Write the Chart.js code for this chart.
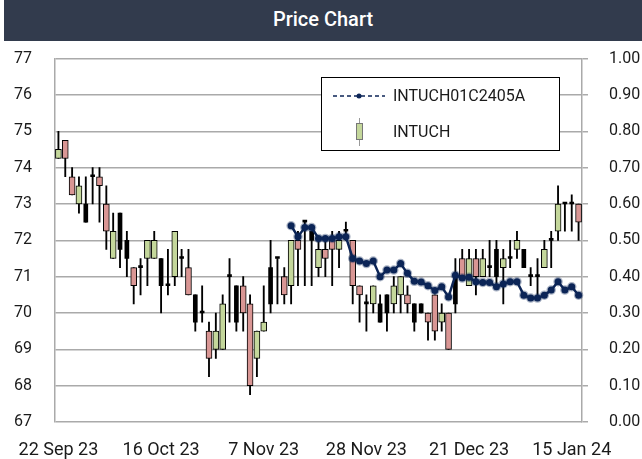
<!DOCTYPE html>
<html>
<head>
<meta charset="utf-8">
<title>Price Chart</title>
<script src="https://cdn.jsdelivr.net/npm/chart.js"></script>
<style>
    html, body { margin: 0; padding: 0; background: #fff; }
    #wrap { position: relative; width: 642px; height: 459px; overflow: hidden; }
    #title {
        position: absolute; left: 4px; top: 0; width: 638px; height: 41px; z-index: 2;
        background: #323b4d; color: #fff; text-align: center;
        font: 500 20px Roboto, sans-serif; line-height: 39px;
    }
    /* canvas starts under the title bar: chart.js keeps ~31px above the plot */
    #box { position: absolute; left: 0; top: 26px; width: 642px; height: 435px; z-index: 1; }
</style>
</head>
<body>
<div id="wrap">
    <div id="title">Price Chart</div>
    <div id="box"><canvas id="price-chart"></canvas></div>
</div>
<script>
// ===== DATA =====

// trading sessions (SET), 22 Sep 23 -> 16 Jan 24
const dates = [
    '22 Sep 23', '25 Sep 23', '26 Sep 23', '27 Sep 23', '28 Sep 23', '29 Sep 23',
    '2 Oct 23', '3 Oct 23', '4 Oct 23', '5 Oct 23', '6 Oct 23', '9 Oct 23', '10 Oct 23',
    '11 Oct 23', '12 Oct 23', '16 Oct 23', '17 Oct 23', '18 Oct 23', '19 Oct 23', '20 Oct 23',
    '24 Oct 23', '25 Oct 23', '26 Oct 23', '27 Oct 23', '30 Oct 23', '31 Oct 23',
    '1 Nov 23', '2 Nov 23', '3 Nov 23', '6 Nov 23', '7 Nov 23', '8 Nov 23', '9 Nov 23',
    '10 Nov 23', '13 Nov 23', '14 Nov 23', '15 Nov 23', '16 Nov 23', '17 Nov 23', '20 Nov 23',
    '21 Nov 23', '22 Nov 23', '23 Nov 23', '24 Nov 23', '27 Nov 23', '28 Nov 23', '29 Nov 23',
    '30 Nov 23', '1 Dec 23', '4 Dec 23', '6 Dec 23', '7 Dec 23', '8 Dec 23', '12 Dec 23',
    '13 Dec 23', '14 Dec 23', '15 Dec 23', '18 Dec 23', '19 Dec 23', '20 Dec 23', '21 Dec 23',
    '22 Dec 23', '25 Dec 23', '26 Dec 23', '27 Dec 23', '28 Dec 23',
    '2 Jan 24', '3 Jan 24', '4 Jan 24', '5 Jan 24', '8 Jan 24', '9 Jan 24', '10 Jan 24',
    '11 Jan 24', '12 Jan 24', '15 Jan 24', '16 Jan 24'
];

// INTUCH OHLC
const openPx = [
    74.25, 74.75, 73.75, 73.0, 73.0, 73.75, 73.75, 73.0, 71.5, 72.75,
    72.0, 71.25, 71.25, 71.5, 71.5, 71.5, 70.75, 71.0, 71.5, 71.25,
    70.5, 70.0, 69.5, 69.0, 69.0, 71.0, 70.75, 70.75, 70.25, 68.75,
    69.5, 71.25, 71.5, 71.0, 70.75, 72.0, 72.5, 72.25, 71.25, 71.75,
    72.0, 71.75, 72.25, 72.0, 70.75, 70.25, 70.25, 70.25, 70.5, 70.25,
    70.5, 70.5, 70.25, 70.25, 70.0, 70.5, 69.75, 70.0, 71.0, 71.5,
    70.75, 71.5, 71.0, 71.25, 71.75, 71.25, 71.5, 71.75, 71.75, 71.0,
    71.0, 71.25, 72.0, 72.25, 73.0, 73.0, 73.0
];
const highPx = [
    75.0, 74.75, 74.0, 73.75, 73.75, 74.0, 74.0, 73.5, 72.75, 72.75,
    72.25, 71.25, 71.5, 72.0, 72.25, 71.5, 71.75, 72.25, 71.75, 71.75,
    70.5, 70.75, 69.75, 70.0, 70.5, 71.5, 70.75, 71.0, 70.5, 69.5,
    70.75, 72.0, 71.5, 71.25, 72.0, 72.25, 72.5, 72.25, 72.0, 72.0,
    72.25, 72.25, 72.5, 72.0, 70.75, 70.5, 70.75, 70.5, 70.5, 71.0,
    71.0, 70.75, 70.25, 70.25, 70.0, 70.5, 70.25, 70.0, 71.5, 71.75,
    71.75, 71.75, 71.75, 72.0, 72.0, 71.75, 72.0, 72.25, 71.75, 71.25,
    71.5, 72.0, 72.25, 73.5, 73.0, 73.25, 73.0
];
const lowPx = [
    74.25, 73.75, 73.25, 72.75, 72.5, 73.0, 72.5, 71.75, 71.5, 71.25,
    71.0, 70.25, 70.5, 70.75, 71.5, 70.0, 70.5, 70.75, 71.0, 70.5,
    69.5, 69.75, 68.25, 68.75, 69.0, 69.75, 69.5, 69.5, 67.75, 68.25,
    69.5, 70.0, 70.25, 70.25, 70.25, 70.75, 70.75, 70.75, 71.0, 71.0,
    70.75, 71.25, 72.0, 70.25, 69.75, 69.5, 70.0, 69.75, 69.5, 70.0,
    70.0, 70.0, 69.5, 70.0, 69.25, 69.25, 69.5, 69.0, 70.0, 71.0,
    70.75, 70.5, 71.0, 71.0, 70.75, 70.25, 71.25, 71.5, 71.25, 70.75,
    70.5, 71.25, 71.25, 72.0, 72.25, 72.25, 72.0
];
const closePx = [
    74.5, 74.25, 73.25, 73.5, 72.5, 73.75, 73.5, 72.25, 72.25, 71.75,
    71.5, 70.75, 71.25, 72.0, 72.0, 70.75, 70.75, 72.25, 71.5, 70.5,
    69.75, 70.0, 68.75, 69.5, 70.25, 71.0, 69.75, 70.0, 68.0, 69.5,
    69.75, 70.25, 71.5, 70.5, 72.0, 71.75, 72.5, 72.0, 71.75, 71.5,
    71.75, 72.0, 72.25, 70.75, 70.5, 70.25, 70.75, 69.75, 70.0, 70.75,
    71.0, 70.25, 69.75, 70.0, 69.75, 69.5, 70.0, 69.0, 70.25, 71.0,
    71.5, 71.0, 71.5, 71.25, 71.0, 71.5, 71.5, 72.0, 71.25, 71.0,
    71.0, 71.75, 72.0, 73.0, 73.0, 73.0, 72.5
];
// sessions drawn as filled (black) bodies
const filledDays = [4, 9, 10, 15, 20, 26, 31, 37, 47, 48, 52, 53, 58, 64, 68];

// INTUCH01C2405A warrant (right axis), listed from the 13 Nov 23 session
const warrantPx = [
    null, null, null, null, null, null, null, null, null, null,
    null, null, null, null, null, null, null, null, null, null,
    null, null, null, null, null, null, null, null, null, null,
    null, null, null, null, 0.54, 0.51, 0.535, 0.535, 0.505, 0.505,
    0.505, 0.51, 0.51, 0.45, 0.443, 0.436, 0.443, 0.40, 0.418, 0.418,
    0.436, 0.409, 0.387, 0.385, 0.375, 0.362, 0.372, 0.344, 0.404, 0.396,
    0.398, 0.386, 0.384, 0.384, 0.372, 0.38, 0.386, 0.386, 0.349, 0.341,
    0.341, 0.349, 0.363, 0.386, 0.363, 0.372, 0.349
];

// axis ranges / labels
const priceTicks = [67, 68, 69, 70, 71, 72, 73, 74, 75, 76, 77];
const warrantTicks = [0, 0.1, 0.2, 0.3, 0.4, 0.5, 0.6, 0.7, 0.8, 0.9, 1.0];
const labelEvery = 15;
const seriesNames = ['INTUCH01C2405A', 'INTUCH'];

// ===== STYLE =====
const UP_FILL = '#c4d79b';
const DOWN_FILL = '#d99694';
const LINE_COLOR = '#0c2557';
const GRID = '#aaaaaa';
const FONT = 'Roboto, sans-serif';

// ===== LEGEND BOX (drawn inside the plot) =====
const legendBox = {
    id: 'legendBox',
    afterDatasetsDraw(chart) {
        const ctx = chart.ctx;
        // box sits at page x 321..559, y 77..150 (canvas is 26px lower than page top)
        const x = 321, y = 51, w = 238, h = 73;
        ctx.save();
        ctx.fillStyle = '#fff';
        ctx.fillRect(x, y, w, h);
        ctx.strokeStyle = '#000';
        ctx.lineWidth = 1;
        ctx.strokeRect(x + 0.5, y + 0.5, w, h);

        // warrant line sample
        const y1 = y + 19;
        ctx.strokeStyle = LINE_COLOR;
        ctx.lineWidth = 1.5;
        ctx.setLineDash([4, 3]);
        ctx.beginPath();
        ctx.moveTo(333, y1);
        ctx.lineTo(385, y1);
        ctx.stroke();
        ctx.setLineDash([]);
        ctx.fillStyle = LINE_COLOR;
        ctx.beginPath();
        ctx.arc(359, y1, 2.5, 0, Math.PI * 2);
        ctx.fill();

        // candle sample
        const y2 = y + 55;
        ctx.strokeStyle = '#999';
        ctx.lineWidth = 1;
        ctx.beginPath();
        ctx.moveTo(359.5, y2 - 14);
        ctx.lineTo(359.5, y2 + 14);
        ctx.stroke();
        ctx.fillStyle = UP_FILL;
        ctx.fillRect(357, y2 - 8, 5, 15);
        ctx.strokeStyle = '#777';
        ctx.strokeRect(356.5, y2 - 8.5, 6, 16);

        ctx.fillStyle = '#1a1a1a';
        ctx.font = '16px ' + FONT;
        ctx.textBaseline = 'middle';
        ctx.fillText(seriesNames[0], 393, y1 + 1);
        ctx.fillText(seriesNames[1], 393, y2 + 1);
        ctx.restore();
    }
};

// ===== CHART =====
const bodyColor = (i) => {
    if (closePx[i] > openPx[i]) return UP_FILL;
    if (closePx[i] < openPx[i]) return DOWN_FILL;
    return '#000';
};

const isFilled = (i) => filledDays.includes(i) || openPx[i] === closePx[i];

const ctx = document.getElementById('price-chart').getContext('2d');

new Chart(ctx, {
    data: {
        labels: dates,
        datasets: [
            {
                type: 'line',
                label: seriesNames[0],
                data: warrantPx,
                yAxisID: 'y1',
                borderColor: LINE_COLOR,
                borderWidth: 2.5,
                pointRadius: 3.5,
                pointBackgroundColor: LINE_COLOR,
                pointBorderColor: 'rgba(12, 37, 87, 0.35)',
                pointBorderWidth: 2.5,
                tension: 0,
                order: 0
            },
            {
                type: 'bar',
                label: 'wick',
                data: lowPx.map((l, i) => [l, highPx[i]]),
                yAxisID: 'y',
                backgroundColor: '#000',
                barThickness: 1.2,
                grouped: false,
                order: 3
            },
            {
                type: 'bar',
                label: seriesNames[1],
                data: openPx.map((o, i) => isFilled(i) ? null : [o, closePx[i]]),
                yAxisID: 'y',
                backgroundColor: (c) => bodyColor(c.dataIndex),
                borderColor: '#000',
                borderWidth: 1,
                borderSkipped: false,
                barThickness: 6,
                grouped: false,
                order: 2
            },
            {
                type: 'bar',
                label: 'filled',
                data: openPx.map((o, i) => isFilled(i) ? [o, closePx[i]] : null),
                yAxisID: 'y',
                backgroundColor: '#000',
                barThickness: 4,
                minBarLength: 2,
                grouped: false,
                order: 1
            }
        ]
    },
    options: {
        responsive: true,
        maintainAspectRatio: false,
        animation: false,
        layout: { padding: { top: 1, left: 0, right: 0, bottom: 0 } },
        plugins: {
            legend: { display: false },
            tooltip: { enabled: false }
        },
        scales: {
            x: {
                type: 'category',
                offset: true,
                grid: { display: false },
                border: { display: false },
                ticks: {
                    autoSkip: false,
                    maxRotation: 0,
                    padding: 10,
                    color: '#1a1a1a',
                    font: { family: FONT, size: 18 },
                    callback: (v, i) => i % labelEvery === 0 ? dates[i] : ''
                },
                afterFit: (s) => { s.height = 39; }
            },
            y: {
                position: 'left',
                min: priceTicks[0],
                max: priceTicks[priceTicks.length - 1],
                afterBuildTicks: (s) => { s.ticks = priceTicks.map(v => ({ value: v })); },
                grid: { color: GRID, lineWidth: 1.5, drawTicks: false },
                border: { display: true, color: GRID, width: 1.5 },
                ticks: {
                    padding: 23,
                    color: '#1a1a1a',
                    font: { family: FONT, size: 16 }
                },
                afterFit: (s) => { s.width = 55; }
            },
            y1: {
                position: 'right',
                min: warrantTicks[0],
                max: warrantTicks[warrantTicks.length - 1],
                afterBuildTicks: (s) => { s.ticks = warrantTicks.map(v => ({ value: v })); },
                grid: { drawOnChartArea: false, drawTicks: true, tickLength: 6, color: GRID, lineWidth: 1.5 },
                border: { display: true, color: GRID, width: 1.5 },
                ticks: {
                    padding: 21,
                    color: '#1a1a1a',
                    font: { family: FONT, size: 16 },
                    callback: (v) => Number(v).toFixed(2)
                },
                afterFit: (s) => { s.width = 60; }
            }
        }
    },
    plugins: [legendBox]
});
</script>
</body>
</html>
